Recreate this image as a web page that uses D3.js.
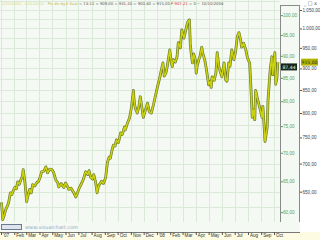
<!DOCTYPE html>
<html>
<head>
<meta charset="utf-8">
<script src="https://cdn.jsdelivr.net/npm/d3@7"></script>
<style>
  html, body { margin: 0; padding: 0; background: #ffffff; }
  svg { display: block; font-family: "DejaVu Sans", sans-serif; }
</style>
</head>
<body>
<script>
// gold (USD), roughly twice a week plus the turning points
var dates = [
  '2007-01-02','2007-01-04','2007-01-05','2007-01-09','2007-01-12','2007-01-16','2007-01-19','2007-01-23','2007-01-26','2007-01-30',
  '2007-02-02','2007-02-06','2007-02-09','2007-02-13','2007-02-16','2007-02-20','2007-02-22','2007-02-26','2007-02-28','2007-03-02',
  '2007-03-06','2007-03-09','2007-03-13','2007-03-16','2007-03-21','2007-03-26','2007-03-30','2007-04-03','2007-04-06','2007-04-11',
  '2007-04-16','2007-04-20','2007-04-25','2007-04-30','2007-05-04','2007-05-09','2007-05-14','2007-05-16','2007-05-22','2007-05-28',
  '2007-06-01','2007-06-05','2007-06-09','2007-06-14','2007-06-19','2007-06-25','2007-06-29','2007-07-04','2007-07-09','2007-07-13',
  '2007-07-18','2007-07-23','2007-07-26','2007-07-30','2007-08-03','2007-08-06','2007-08-10','2007-08-14','2007-08-17','2007-08-21',
  '2007-08-24','2007-08-29','2007-09-03','2007-09-07','2007-09-11','2007-09-14','2007-09-18','2007-09-21','2007-09-25','2007-09-28',
  '2007-10-03','2007-10-08','2007-10-12','2007-10-17','2007-10-19','2007-10-24','2007-10-29','2007-11-02','2007-11-07','2007-11-09',
  '2007-11-12','2007-11-16','2007-11-20','2007-11-23','2007-11-27','2007-11-30','2007-12-05','2007-12-10','2007-12-14','2007-12-19',
  '2007-12-24','2007-12-28','2008-01-02','2008-01-08','2008-01-11','2008-01-15','2008-01-18','2008-01-22','2008-01-25','2008-01-31',
  '2008-02-04','2008-02-06','2008-02-08','2008-02-13','2008-02-17','2008-02-20','2008-02-25','2008-02-28','2008-03-04','2008-03-06',
  '2008-03-10','2008-03-13','2008-03-17','2008-03-19','2008-03-21','2008-03-24','2008-03-27','2008-03-31','2008-04-02','2008-04-04',
  '2008-04-08','2008-04-11','2008-04-15','2008-04-17','2008-04-22','2008-04-26','2008-05-01','2008-05-05','2008-05-07','2008-05-09',
  '2008-05-14','2008-05-18','2008-05-21','2008-05-25','2008-05-29','2008-06-01','2008-06-06','2008-06-10','2008-06-13','2008-06-17',
  '2008-06-20','2008-06-24','2008-06-29','2008-07-03','2008-07-07','2008-07-11','2008-07-15','2008-07-17','2008-07-22','2008-07-27',
  '2008-07-31','2008-08-05','2008-08-08','2008-08-11','2008-08-14','2008-08-17','2008-08-19','2008-08-24','2008-08-26','2008-09-03',
  '2008-09-05','2008-09-10','2008-09-15','2008-09-17','2008-09-22','2008-09-26','2008-09-28','2008-10-03','2008-10-05','2008-10-08',
  '2008-10-10'];
var prices = [
  632,615,604,612,620,626,632,648,645,652,
  657,655,667,663,670,677,689,666,650,633,
  646,654,648,662,660,666,668,676,685,686,
  694,683,690,689,684,671,665,658,664,657,
  665,660,654,656,650,641,648,658,665,672,
  685,680,687,675,672,680,668,648,660,664,
  668,664,675,702,712,710,726,735,733,745,
  740,759,756,771,765,779,790,810,849,822,
  808,800,815,835,810,791,806,821,803,800,
  818,835,856,880,895,913,882,889,904,945,
  912,904,921,915,928,963,950,996,975,983,
  1004,1017,1023,960,938,913,935,920,889,905,
  921,930,952,938,920,896,862,870,856,880,
  872,889,938,904,890,880,913,873,870,913,
  905,945,921,940,978,989,970,952,962,945,
  925,913,856,791,806,786,849,828,821,791,
  814,742,771,828,896,928,885,938,863,880,
  915];

var monthLabels = ["'07",'Feb','Mar','Apr','May','Jun','Jul','Aug','Sep','Oct','Nov','Dec',
                   "'08",'Feb','Mar','Apr','May','Jun','Jul','Aug','Sep','Oct'];
var rightTicks = [650,700,750,800,850,900,950,1000,1050];
var leftTicks = [60,65,70,75,80,85,90,95,100];
var lastPrice = 915;
var lastRatio = 87.44;

var W = 320, H = 240;
var plotR = 280, plotB = 222;

var parse = d3.timeParse('%Y-%m-%d');
var data = dates.map(function(d,i){ return {date: parse(d), v: prices[i]}; });

var loc = d3.formatLocale({decimal: ',', thousands: '.', grouping: [3], currency: ['','']});
var fmt = loc.format(',.2f');

var svg = d3.select('body').append('svg').attr('width', W).attr('height', H);

var x = d3.scaleTime().domain([parse('2007-01-01'), parse('2008-10-01')]).range([1, 274]);
var y = d3.scaleLog().domain([600, 1078]).range([plotB, 0]);
var yL = d3.scaleLog().domain([58.5, 104]).range([plotB, 0]);

// plot background
svg.append('rect').attr('x',0).attr('y',0).attr('width',300).attr('height',plotB).attr('fill','#f4faf3');

// grid
var grid = svg.append('g').attr('stroke','#dbe9d8').attr('stroke-width',1);
var months = d3.timeMonth.range(parse('2007-01-01'), parse('2008-11-01'));
grid.selectAll('line.v').data(months).enter().append('line')
  .attr('x1', function(d){ return Math.round(x(d))+0.5; })
  .attr('x2', function(d){ return Math.round(x(d))+0.5; })
  .attr('y1', 0).attr('y2', plotB);
grid.selectAll('line.h').data(d3.range(600, 1080, 25)).enter().append('line')
  .attr('x1', 0).attr('x2', plotR)
  .attr('y1', function(d){ return Math.round(y(d))+0.5; })
  .attr('y2', function(d){ return Math.round(y(d))+0.5; });

// price line, dark rim + yellow core like the dense bar plot
var line = d3.line().x(function(d){ return x(d.date); }).y(function(d){ return y(d.v); });
svg.append('path').attr('d', line(data)).attr('fill','none').attr('stroke','#6a7a30').attr('stroke-width',2.8).attr('stroke-linejoin','round');
svg.append('path').attr('d', line(data)).attr('fill','none').attr('stroke','#cdd20e').attr('stroke-width',1.5).attr('stroke-linejoin','round');

// side box with the second (green) axis
svg.append('line').attr('x1',280.5).attr('x2',280.5).attr('y1',5).attr('y2',plotB).attr('stroke','#8a8a8a');
svg.append('line').attr('x1',299.5).attr('x2',299.5).attr('y1',5).attr('y2',plotB).attr('stroke','#8a8a8a');
svg.append('line').attr('x1',280).attr('x2',300).attr('y1',5.5).attr('y2',5.5).attr('stroke','#8a8a8a');

var gl = svg.append('g').attr('transform','translate(281,0)')
  .call(d3.axisRight(yL).tickValues(leftTicks).tickSize(2).tickPadding(0).tickFormat(fmt));
gl.select('.domain').remove();
gl.selectAll('line').attr('stroke','#5aa05a');
gl.selectAll('text').attr('fill','#5aa05a').attr('font-size',4.6);

var lb = svg.append('g');
lb.append('rect').attr('x',281).attr('y',yL(lastRatio)-3.5).attr('width',16).attr('height',7).attr('fill','#16261a');
lb.append('text').attr('x',289).attr('y',yL(lastRatio)+1.7).attr('text-anchor','middle').attr('fill','#e8ffe8').attr('font-size',4.6).text(fmt(lastRatio));

// right axis
var gr = svg.append('g').attr('transform','translate(300,0)')
  .call(d3.axisRight(y).tickValues(rightTicks).tickSize(2).tickPadding(0.5).tickFormat(fmt));
gr.select('.domain').remove();
gr.selectAll('line').attr('stroke','#555');
gr.selectAll('text').attr('fill','#444').attr('font-size',4.6);

var rb = svg.append('g');
rb.append('rect').attr('x',301).attr('y',y(lastPrice)-3.5).attr('width',17).attr('height',7).attr('fill','#b4b400');
rb.append('text').attr('x',309.5).attr('y',y(lastPrice)+1.7).attr('text-anchor','middle').attr('fill','#333').attr('font-size',4.6).text(fmt(lastPrice));

// window buttons
svg.append('text').attr('x',317).attr('y',5).attr('text-anchor','end').attr('font-size',5).attr('fill','#555').text('_ \u25a1 x');

// header
var hd = svg.append('text').attr('x',2).attr('y',5).attr('font-size',3.8);
hd.append('tspan').attr('fill','#d8d880').text('GOLDUSD - GOLDUSD - ');
hd.append('tspan').attr('fill','#c8b840').text('Pic de dg k Kuai ');
hd.append('tspan').attr('fill','#555').text('= 13:11 = 909,00 = 931,40 = 900,80 = 915,00 ');
hd.append('tspan').attr('fill','#d83030').text('P 907,21 ');
hd.append('tspan').attr('fill','#555').text('= 0 ~ 10/10/2008');

// bottom strip
svg.append('rect').attr('x',0).attr('y',plotB).attr('width',300).attr('height',10).attr('fill','#f4faf3');
svg.append('rect').attr('x',1.5).attr('y',224.5).attr('width',20).attr('height',5).attr('fill','#dde4ee').attr('stroke','#6a7a90');
svg.append('text').attr('x',25).attr('y',229).attr('font-size',5).attr('fill','#95a8c0').text('www.visualchart.com');

// time axis band
svg.append('rect').attr('x',0).attr('y',232).attr('width',W).attr('height',8).attr('fill','#fdfbe2');
svg.append('line').attr('x1',0).attr('x2',300).attr('y1',232.5).attr('y2',232.5).attr('stroke','#777');
var axm = months.slice(0, monthLabels.length);
var gx = svg.append('g').attr('transform','translate(0,232)')
  .call(d3.axisBottom(x).tickValues(axm).tickSize(3).tickPadding(-1)
    .tickFormat(function(d,i){ return monthLabels[i]; }));
gx.select('.domain').remove();
gx.selectAll('line').attr('stroke','#555');
gx.selectAll('text').attr('text-anchor','start').attr('dx',1.5).attr('fill','#333').attr('font-size',4.6);
</script>
</body>
</html>
